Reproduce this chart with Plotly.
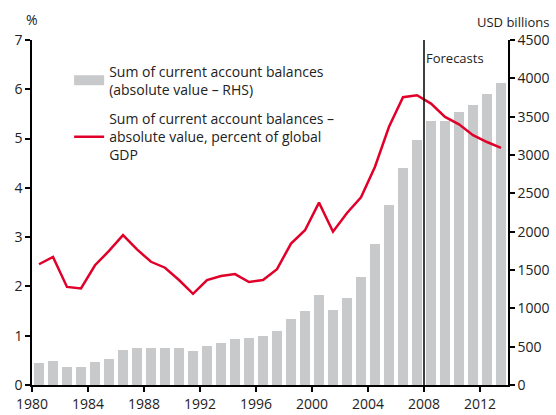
import plotly.graph_objects as go

# data
years = list(range(1980, 2014))
balances_usd = [291, 313, 239, 239, 300, 339, 457, 487, 487, 487, 487, 443, 513, 552,
                604, 617, 639, 704, 857, 969, 1174, 978, 1139, 1413, 1843, 2348, 2835,
                3196, 3447, 3447, 3565, 3656, 3796, 3943]
balances_pct = [2.45, 2.60, 1.99, 1.96, 2.43, 2.72, 3.04, 2.75, 2.50, 2.38, 2.13, 1.85,
                2.13, 2.21, 2.25, 2.09, 2.13, 2.35, 2.87, 3.14, 3.70, 3.11, 3.49, 3.81,
                4.43, 5.24, 5.84, 5.88, 5.71, 5.44, 5.29, 5.07, 4.93, 4.81]
x_ticks = list(range(1980, 2013, 4))
forecast_start = 2008

FONT = "Open Sans"
RED = "#E0002A"
GREY = "#C8C9CB"
TXT = "#222"

xpos = [y + 0.5 for y in years]  # centre each year inside its slot

fig = go.Figure()

fig.add_trace(go.Bar(
    x=xpos, y=balances_usd,
    marker=dict(color=GREY, line=dict(width=0)),
    width=0.72,
    yaxis="y",
    showlegend=False,
))

# legend entry for the bars (wide grey patch like the original)
fig.add_trace(go.Scatter(
    x=[None], y=[None], mode="lines",
    name="Sum of current account balances<br>(absolute value – RHS)",
    line=dict(color=GREY, width=11),
    legendgroup="a",
))

fig.add_trace(go.Scatter(
    x=xpos, y=balances_pct,
    name="Sum of current account balances –<br>absolute value, percent of global<br>GDP",
    mode="lines",
    line=dict(color=RED, width=2.5),
    yaxis="y2",
    legendgroup="b",
))

# forecast divider
fig.add_shape(type="line", x0=forecast_start, x1=forecast_start, y0=0, y1=1,
              xref="x", yref="paper", line=dict(color="black", width=1.5), layer="above")
fig.add_annotation(x=forecast_start, y=0.98, xref="x", yref="paper", text="Forecasts",
                   showarrow=False, xanchor="left", yanchor="top",
                   font=dict(size=13, color=TXT))

# axis unit labels
fig.add_annotation(x=0, y=1.058, xref="paper", yref="paper", text="%", showarrow=False,
                   xanchor="center", yanchor="middle", font=dict(size=14, color=TXT))
fig.add_annotation(x=1.09, y=1.052, xref="paper", yref="paper", text="USD billions",
                   showarrow=False, xanchor="right", yanchor="middle",
                   font=dict(size=13, color=TXT))

axis_style = dict(showgrid=False, zeroline=False, showline=True, linecolor="black",
                  linewidth=1.5, ticks="outside", ticklen=5, tickwidth=1.5,
                  tickcolor="black", tickfont=dict(size=14, color=TXT), automargin=False)

fig.update_layout(
    width=556, height=415,
    margin=dict(l=32, r=48, t=40, b=30),
    plot_bgcolor="white", paper_bgcolor="white",
    font=dict(family=FONT, size=13, color=TXT),
    bargap=0,
    xaxis=dict(range=[1980, 2014], tickvals=x_ticks, **axis_style),
    yaxis=dict(range=[0, 4500], dtick=500, side="right", **axis_style),
    yaxis2=dict(range=[0, 7], dtick=1, side="left", overlaying="y", **axis_style),
    legend=dict(x=0.078, y=0.955, xanchor="left", yanchor="top", bgcolor="rgba(0,0,0,0)",
                font=dict(size=14, color=TXT), tracegroupgap=8, itemwidth=30),
    showlegend=True,
)

# drop the default page margin so the chart sits at the window's corner
fig.write_html("out.html", config={"displayModeBar": False},
               post_script="document.body.style.margin='0';")
